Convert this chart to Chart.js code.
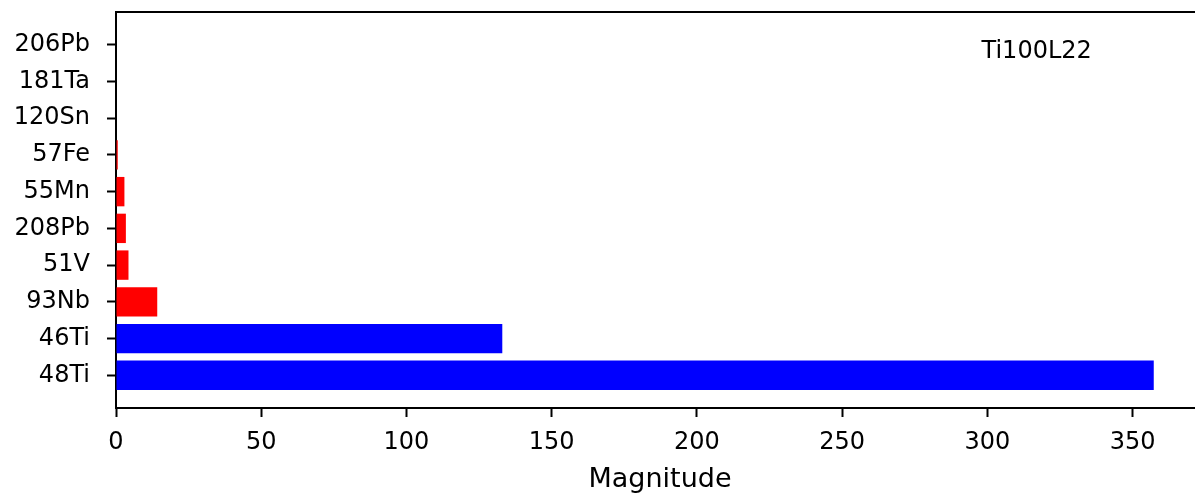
<!DOCTYPE html>
<html>
<head>
<meta charset="utf-8">
<script src="https://cdn.jsdelivr.net/npm/chart.js@4/dist/chart.umd.min.js"></script>
<style>
  html, body { margin: 0; padding: 0; background: #fff; overflow: hidden; }
  #wrap { width: 1204px; height: 493px; position: relative; }
</style>
</head>
<body>
<div id="wrap"><canvas id="magChart"></canvas></div>
<script>
"use strict";

// isotopes, bottom to top
var isotopes = ["48Ti", "46Ti", "93Nb", "51V", "208Pb", "55Mn", "57Fe", "120Sn", "181Ta", "206Pb"];
var magnitudes = [357.3, 133.0, 14.2, 4.3, 3.4, 2.9, 0.6, 0, 0, 0];
var barColors = ["#0000ff", "#0000ff", "#ff0000", "#ff0000", "#ff0000", "#ff0000", "#ff0000", "#ff0000", "#ff0000", "#ff0000"];
var xTicks = [0, 50, 100, 150, 200, 250, 300, 350];
var sampleName = "Ti100L22";

Chart.defaults.font.family = "'DejaVu Sans', sans-serif";
Chart.defaults.color = "#000";

// frame line along the top and the sample name
var framePlugin = {
  id: "frame",
  afterDraw: function (chart) {
    var ctx = chart.ctx;
    var area = chart.chartArea;
    ctx.save();
    ctx.strokeStyle = "#000";
    ctx.lineWidth = 2;
    ctx.beginPath();
    ctx.moveTo(area.left - 1, area.top);
    ctx.lineTo(area.right, area.top);
    ctx.stroke();

    ctx.font = "24px 'DejaVu Sans'";
    ctx.fillStyle = "#000";
    ctx.textAlign = "left";
    ctx.textBaseline = "alphabetic";
    ctx.fillText(sampleName, chart.scales.x.getPixelForValue(298), area.top + 0.117 * (area.bottom - area.top));
    ctx.restore();
  },
};

var ctx = document.getElementById("magChart").getContext("2d");
new Chart(ctx, {
  type: "bar",
  data: {
    datasets: [
      {
        data: magnitudes.map(function (v, i) { return { x: v, y: i }; }),
        backgroundColor: barColors,
        borderWidth: 0,
        barPercentage: 0.8,
        categoryPercentage: 1.0,
      },
    ],
  },
  options: {
    indexAxis: "y",
    responsive: true,
    maintainAspectRatio: false,
    animation: false,
    layout: { padding: { top: 12, right: 0, bottom: 0, left: 0 } },
    plugins: {
      legend: { display: false },
      tooltip: { enabled: false },
    },
    scales: {
      x: {
        type: "linear",
        min: 0,
        max: 374.6,
        border: { display: true, color: "#000", width: 2 },
        grid: { drawOnChartArea: false, drawTicks: true, tickLength: 9, tickWidth: 2, tickColor: "#000" },
        ticks: { autoSkip: false, padding: 11, font: { size: 24 }, color: "#000" },
        title: { display: true, text: "Magnitude", font: { size: 27 }, color: "#000", padding: { top: 0, bottom: -3 } },
        afterBuildTicks: function (axis) {
          axis.ticks = xTicks.map(function (v) { return { value: v }; });
        },
        afterFit: function (axis) { axis.height = 85; },
      },
      y: {
        type: "linear",
        min: -0.89,
        max: 9.89,
        offset: false,
        border: { display: true, color: "#000", width: 2 },
        grid: { offset: false, drawOnChartArea: false, drawTicks: true, tickLength: 9, tickWidth: 2, tickColor: "#000" },
        ticks: {
          autoSkip: false,
          padding: 17,
          font: { size: 24 },
          color: "#000",
          callback: function (value) { return isotopes[value]; },
        },
        afterBuildTicks: function (axis) {
          axis.ticks = isotopes.map(function (_, i) { return { value: i }; });
        },
        afterFit: function (axis) {
          axis.width = 116;
          axis.paddingTop = 0;
          axis.paddingBottom = 0;
        },
      },
    },
  },
  plugins: [framePlugin],
});
</script>
</body>
</html>
